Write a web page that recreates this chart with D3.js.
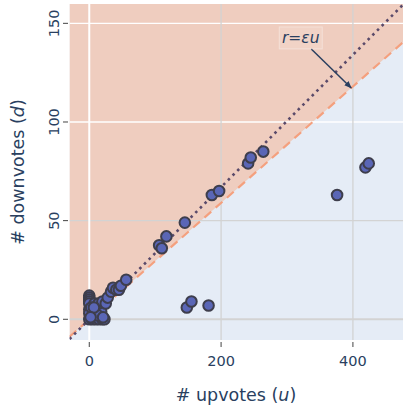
<!DOCTYPE html>
<html><head><meta charset="utf-8">
<script src="https://cdn.jsdelivr.net/npm/d3@7"></script>
<style>body{margin:0;background:#fff}svg{display:block;font-family:"DejaVu Sans",Verdana,sans-serif}</style>
</head><body>
<script>
// data: upvotes (u) and downvotes (d)
const upvotes = [0,0,0,0,0,0,0,0,5,10,15,20,23,12,18,8,14,20,25,13,21,28,33,36,41,45,48,56,106,110,117,145,148,155,181,186,197,241,245,264,376,419,424,3,7,2];
const downvotes = [12,11,10,9,8,5,3,0,0,0,0,0,0,4,4,8,8,9,8,2,1,11,14,16,15,15,17,20,37.5,36,42,49,6,9,7,63,65,79,82,85,63,77,79,6,6,1];
const xTicks = [0,200,400];
const yTicks = [0,50,100,150];
const xDomain = [-30,476];
const yDomain = [-10.5,159.8];
const epsSlope = 0.335;   // dotted line r = eps*u
const boundSlope = 0.295; // dashed boundary
const annotationText = "r=εu";
const annotationU = 397.5;

const W=403,H=411;
const m={l:69.5,t:4,r:403,b:340};
const svg=d3.select("body").append("svg").attr("width",W).attr("height",H);
const x=d3.scaleLinear().domain(xDomain).range([m.l,m.r]);
const y=d3.scaleLinear().domain(yDomain).range([m.b,m.t]);
svg.append("clipPath").attr("id","clip").append("rect").attr("x",m.l).attr("y",m.t).attr("width",m.r-m.l).attr("height",m.b-m.t);
const g=svg.append("g").attr("clip-path","url(#clip)");
g.append("rect").attr("x",m.l).attr("y",m.t).attr("width",m.r-m.l).attr("height",m.b-m.t).attr("fill","#e5ecf6");
const [u0,u1]=xDomain;
g.append("path").attr("fill","#efcdbf")
 .attr("d",d3.line()([[x(u0),y(u0*boundSlope)],[x(u1),y(u1*boundSlope)],[x(u1),y(yDomain[1])],[x(u0),y(yDomain[1])]])+"Z");
// grid
const light=v=>v>=100;
yTicks.forEach(t=>{
  g.append("line").attr("x1",m.l).attr("x2",m.r).attr("y1",y(t)).attr("y2",y(t))
   .attr("stroke",light(t)?"#ffffff":"#d3d3d3").attr("stroke-width",t===0?2:1.3);
});
xTicks.forEach(t=>{
  g.append("line").attr("y1",m.t).attr("y2",m.b).attr("x1",x(t)).attr("x2",x(t))
   .attr("stroke",t===0?"#ffffff":"#d3d3d3").attr("stroke-width",t===0?2:1.3);
});
// lines
g.append("line").attr("x1",x(u0)).attr("y1",y(u0*boundSlope)).attr("x2",x(u1)).attr("y2",y(u1*boundSlope))
 .attr("stroke","#f4a07e").attr("stroke-width",2.2).attr("stroke-dasharray","9,6");
g.append("line").attr("x1",x(u0)).attr("y1",y(u0*epsSlope)).attr("x2",x(u1)).attr("y2",y(u1*epsSlope))
 .attr("stroke","#5a4a6a").attr("stroke-width",2.6).attr("stroke-dasharray","2.6,4");
// points
g.selectAll("circle.pt").data(upvotes.map((u,i)=>[u,downvotes[i]])).enter().append("circle")
 .attr("cx",d=>x(d[0])).attr("cy",d=>y(d[1])).attr("r",5.3)
 .attr("fill","#5a66b6").attr("stroke","#3e3e4c").attr("stroke-width",2);
// axes ticks
const tc="#2a3f5f";
xTicks.forEach(t=>{
  svg.append("line").attr("x1",x(t)).attr("x2",x(t)).attr("y1",m.b+2).attr("y2",m.b+7).attr("stroke","#444").attr("stroke-width",1);
  svg.append("text").attr("x",x(t)).attr("y",366).attr("text-anchor","middle").attr("fill",tc).attr("font-size",14.5).text(t);
});
yTicks.forEach(t=>{
  svg.append("line").attr("x1",m.l-6.5).attr("x2",m.l-1.5).attr("y1",y(t)).attr("y2",y(t)).attr("stroke","#444").attr("stroke-width",1);
  svg.append("text").attr("transform",`translate(58.5,${y(t)}) rotate(-90)`).attr("text-anchor","middle").attr("fill",tc).attr("font-size",14.5).text(t);
});
// titles
const xt=svg.append("text").attr("x",236).attr("y",401).attr("text-anchor","middle").attr("fill",tc).attr("font-size",17.5);
xt.append("tspan").text("# upvotes (");xt.append("tspan").attr("font-style","italic").text("u");xt.append("tspan").text(")");
const yt=svg.append("text").attr("transform","translate(24,172) rotate(-90)").attr("text-anchor","middle").attr("fill",tc).attr("font-size",17.5);
yt.append("tspan").text("# downvotes (");yt.append("tspan").attr("font-style","italic").text("d");yt.append("tspan").text(")");
// annotation
const tipX=x(annotationU), tipY=y(annotationU*boundSlope);
svg.append("defs").append("marker").attr("id","ah").attr("viewBox","0 0 10 10").attr("refX",9).attr("refY",5)
 .attr("markerWidth",5).attr("markerHeight",5).attr("orient","auto")
 .append("path").attr("d","M0,1L10,5L0,9Z").attr("fill",tc);
svg.append("line").attr("x1",tipX-40).attr("y1",tipY-39).attr("x2",tipX).attr("y2",tipY)
 .attr("stroke",tc).attr("stroke-width",1.5).attr("marker-end","url(#ah)");
svg.append("rect").attr("x",tipX-72).attr("y",tipY-61).attr("width",43).attr("height",22)
 .attr("fill","rgba(255,255,255,0.12)").attr("stroke","rgba(255,255,255,0.35)").attr("stroke-width",1);
svg.append("text").attr("x",tipX-50.5).attr("y",tipY-44.5).attr("text-anchor","middle").attr("fill",tc)
 .attr("font-size",15.5).attr("font-style","italic").text(annotationText);
</script>
</body></html>
